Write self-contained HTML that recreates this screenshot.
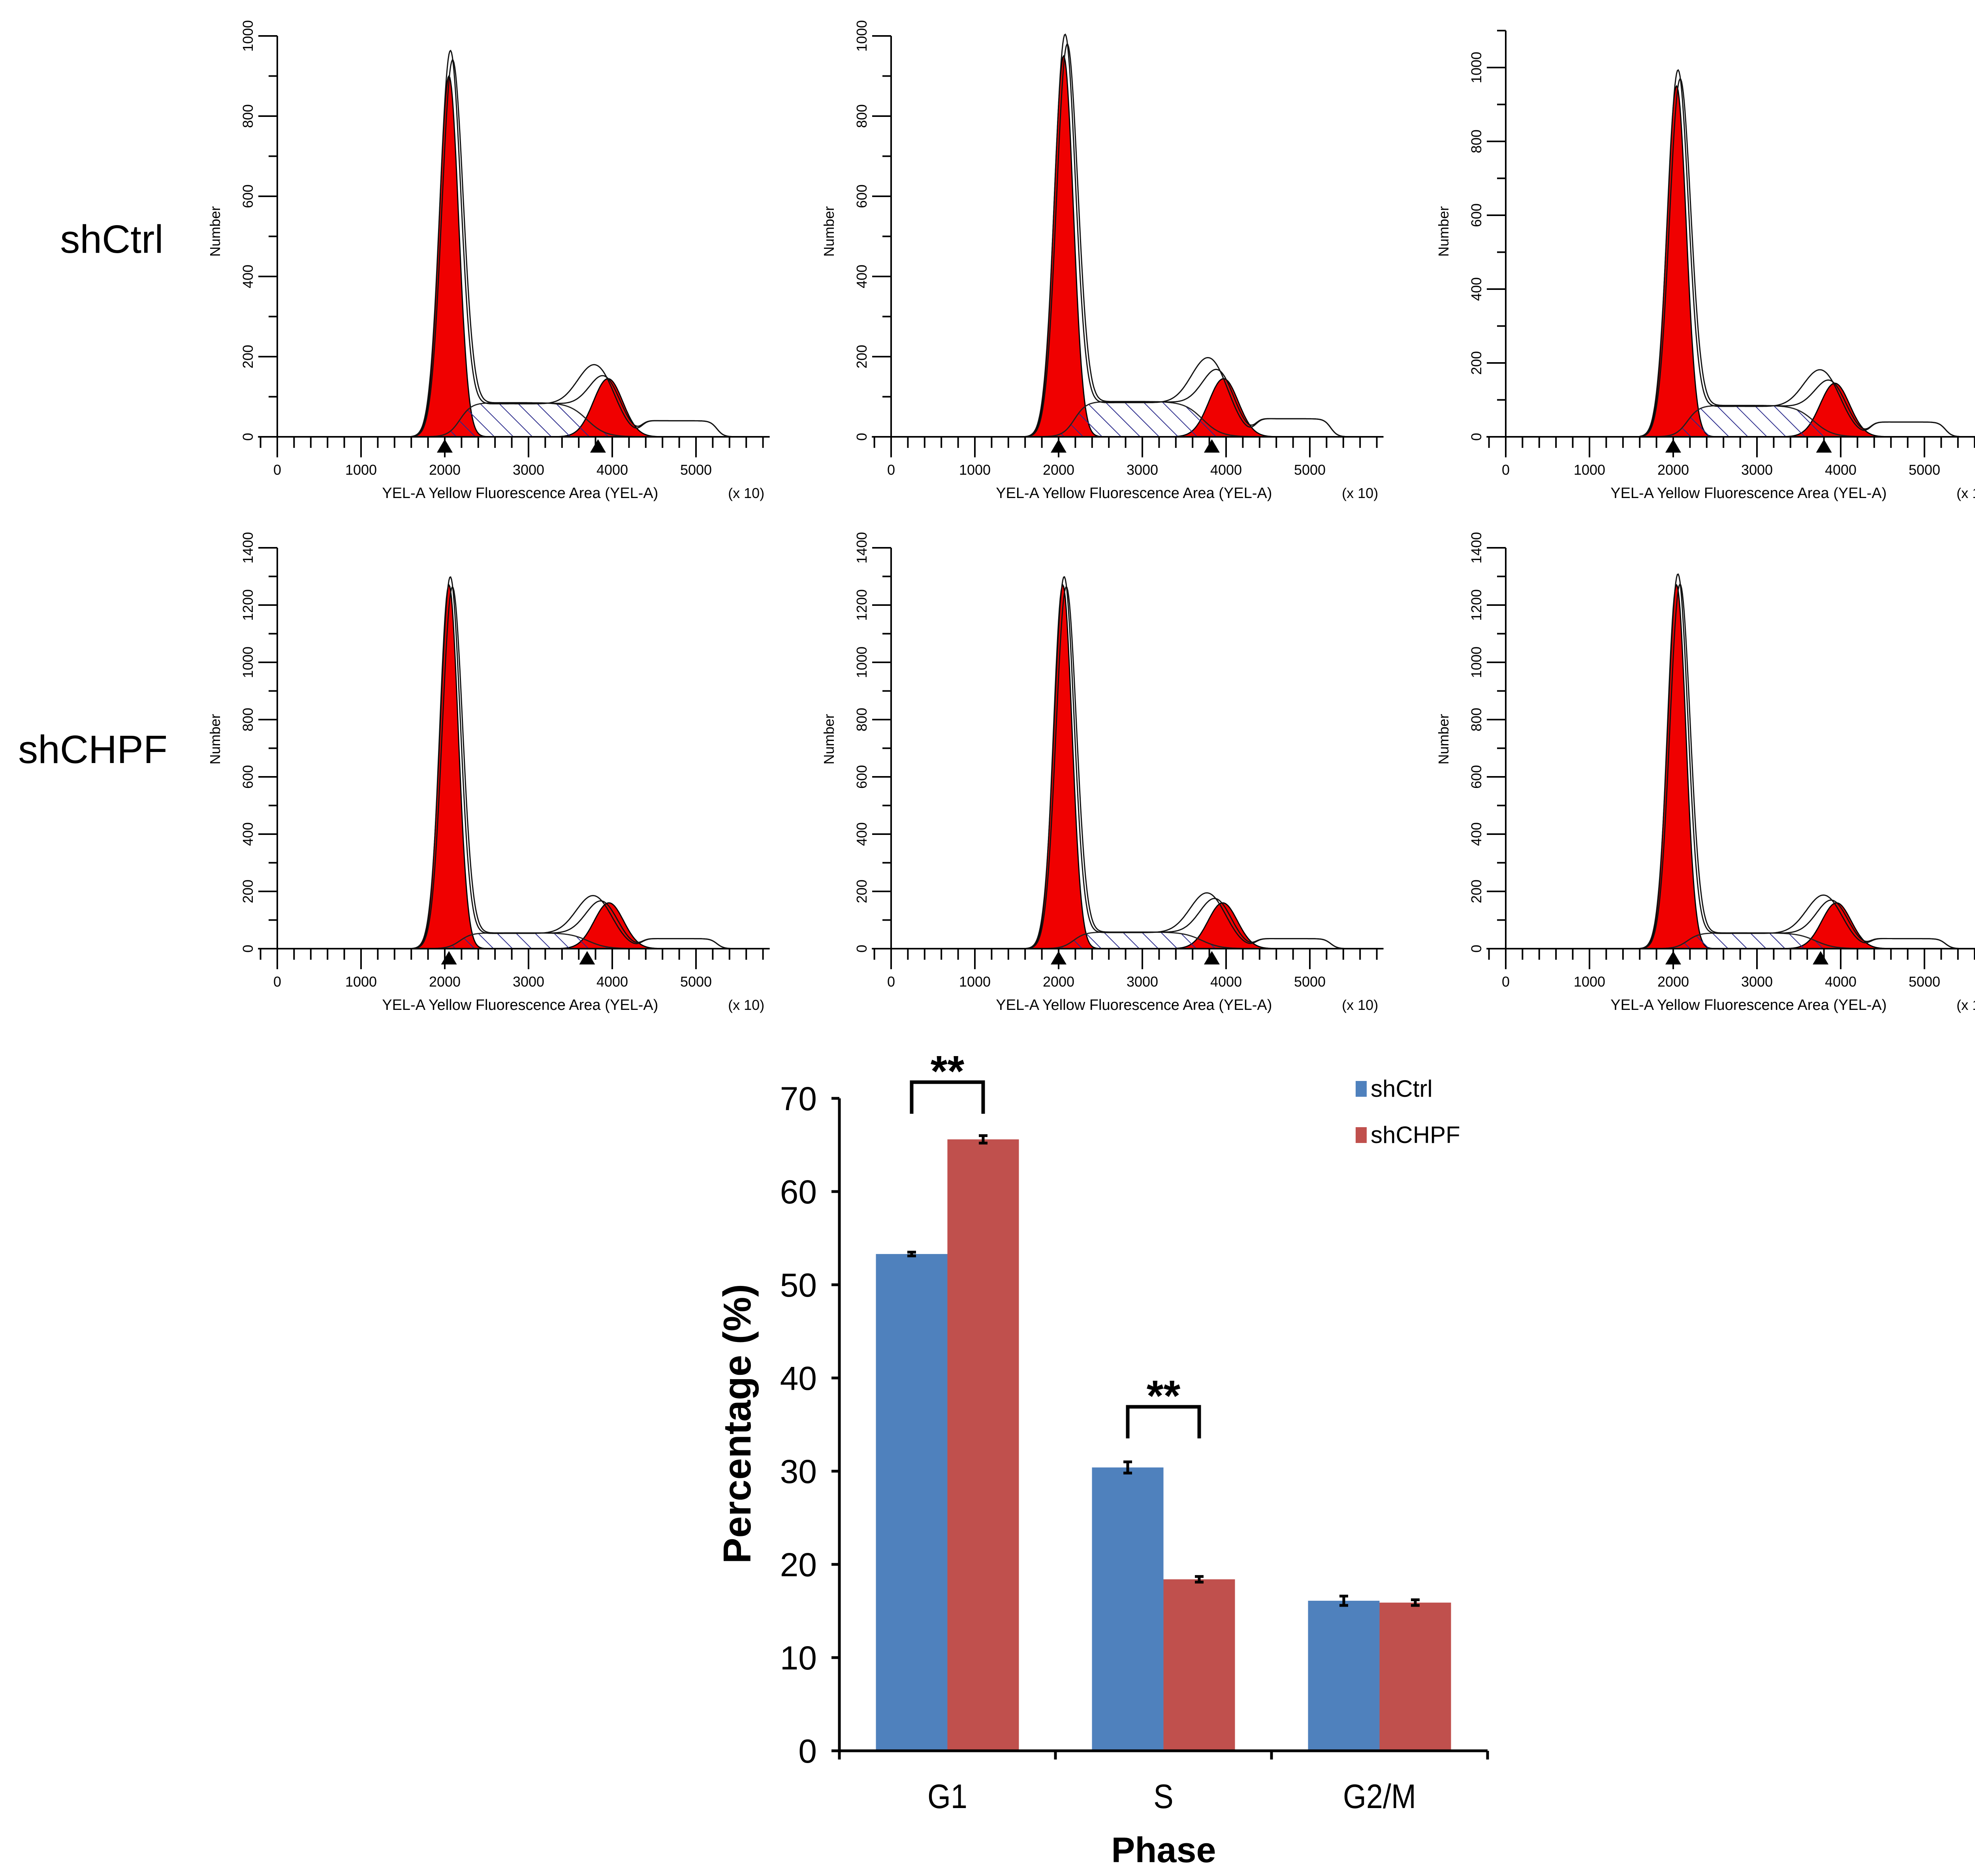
<!DOCTYPE html>
<html><head><meta charset="utf-8">
<style>
html,body{margin:0;padding:0;background:#fff;}
svg{display:block;font-family:"Liberation Sans",Arial,sans-serif;}
</style></head>
<body>
<svg id="fig" width="5100" height="4750" viewBox="0 0 5100 4750" xmlns="http://www.w3.org/2000/svg">
<defs>
<pattern id="hatch" patternUnits="userSpaceOnUse" width="34" height="34" patternTransform="rotate(-45)">
<line x1="0" y1="0" x2="0" y2="34" stroke="#2b2b8c" stroke-width="4"/>
</pattern>
</defs>
<rect x="0" y="0" width="5100" height="4750" fill="#fff"/>
<g id="hist"></g>
<g id="bars"></g>
</svg>
<script>
// ---------- Histogram data (one entry per panel: row1 c1..c3, row2 c1..c3) ----------
const panelYMax = [1000, 1000, 1100, 1400, 1400, 1400];
const panelYLabelStep = [200, 200, 200, 200, 200, 200];
const g1Mean = [2050, 2060, 2040, 2050, 2050, 2040];
const g1Peak = [900, 950, 950, 1270, 1270, 1270];
const g1OutlinePeak = [950, 990, 980, 1290, 1290, 1300];
const g1Sd = [115, 115, 115, 110, 110, 110];
const sLevel = [85, 88, 85, 55, 58, 55];
const g2Mean = [3950, 3970, 3930, 3960, 3960, 3950];
const g2Peak = [145, 145, 145, 160, 160, 160];
const g2OutlineMean = [3830, 3830, 3800, 3800, 3800, 3820];
const g2OutlinePeak = [200, 215, 200, 195, 205, 200];
const tailLevel = [40, 45, 40, 35, 35, 35];
const markerG1 = [2000, 2000, 2000, 2050, 2000, 2000];
const markerG2 = [3830, 3830, 3800, 3700, 3830, 3760];
const xTickLabels = ["0", "1000", "2000", "3000", "4000", "5000"];

// ---------- Bar chart data ----------
const phases = ["G1", "S", "G2/M"];
const shCtrl = [53.3, 30.4, 16.1];
const shCHPF = [65.6, 18.4, 15.9];
const errCtrl = [0.2, 0.6, 0.5];
const errCHPF = [0.4, 0.3, 0.3];
const yTicks = [0, 10, 20, 30, 40, 50, 60, 70];
const seriesNames = ["shCtrl", "shCHPF"];

const NS = "http://www.w3.org/2000/svg";
function mk(tag, attrs, parent) {
  const e = document.createElementNS(NS, tag);
  for (const k in attrs) e.setAttribute(k, attrs[k]);
  parent.appendChild(e);
  return e;
}
const hist = document.getElementById('hist');

const colX = [702, 2256, 3812];
const rowY0 = [1106, 2402];
const rowScale = [1.015, 0.725];
const xScale = 0.212;

function gauss(x, m, s) { return Math.exp(-0.5 * ((x - m) / s) * ((x - m) / s)); }
function sig(x, c, w) { return 1 / (1 + Math.exp(-(x - c) / w)); }

for (let p = 0; p < 6; p++) {
  const r = Math.floor(p / 3), c = p % 3;
  const ox = colX[c], oy = rowY0[r];
  let sc = rowScale[r];
  if (p === 2) sc = 0.935;
  const X = v => ox + v * xScale;
  const Y = n => oy - n * sc;
  const g = mk('g', {}, hist);
  
  

  const i = p;
  const S = x => sLevel[i] * sig(x, g1Mean[i] + 130, 70) * (1 - sig(x, g2Mean[i] - 250, 110));
  const G1 = x => g1Peak[i] * gauss(x, g1Mean[i], g1Sd[i]);
  const G2 = x => g2Peak[i] * gauss(x, g2Mean[i], 175);
  const T = x => tailLevel[i] * sig(x, 4350, 40) * (1 - sig(x, 5250, 40));
  const OUT1 = x => g1OutlinePeak[i] * gauss(x, g1Mean[i] + 15, g1Sd[i] * 1.08) + S(x) * 0.97 + (g2OutlinePeak[i] - sLevel[i] * 0.5) * gauss(x, g2OutlineMean[i], 210) + T(x);
  const OUT2 = x => g1OutlinePeak[i] * 0.97 * gauss(x, g1Mean[i] + 40, g1Sd[i] * 1.1) + S(x) + (g2OutlinePeak[i] - sLevel[i] * 0.7) * gauss(x, g2OutlineMean[i] + 80, 190) + T(x);

  function areaPath(f, a, b) {
    let d = 'M' + X(a) + ',' + Y(0);
    for (let x = a; x <= b; x += 10) d += ' L' + X(x).toFixed(1) + ',' + Y(f(x)).toFixed(1);
    d += ' L' + X(b) + ',' + Y(0) + ' Z';
    return d;
  }
  function linePath(f, a, b) {
    let d = '';
    for (let x = a; x <= b; x += 10) d += (x === a ? 'M' : ' L') + X(x).toFixed(1) + ',' + Y(f(x)).toFixed(1);
    return d;
  }
  let e;
  e = mk('path', { d: areaPath(G1, 1550, 2600), fill: '#f00000', stroke: '#000', 'stroke-width': 3 }, g);
   
  e = mk('path', { d: areaPath(G2, 3300, 4700), fill: '#f00000', stroke: '#000', 'stroke-width': 3 }, g);
   
  e = mk('path', { d: areaPath(S, 1800, 4600), fill: 'url(#hatch)', stroke: '#222', 'stroke-width': 3 }, g);
   
  e = mk('path', { d: linePath(OUT1, 1600, 5500), fill: 'none', stroke: '#111', 'stroke-width': 3 }, g);
   
  e = mk('path', { d: linePath(OUT2, 1600, 5500), fill: 'none', stroke: '#111', 'stroke-width': 3 }, g);
   

  const yTop = Y(panelYMax[p]);
  mk('line', { x1: ox, y1: yTop, x2: ox, y2: oy + 50, stroke: '#000', 'stroke-width': 4 }, g);
  mk('line', { x1: X(-230), y1: oy, x2: X(5880), y2: oy, stroke: '#000', 'stroke-width': 4 }, g);
  for (let n = 0; n <= panelYMax[p]; n += 100) {
    const major = n % panelYLabelStep[p] === 0;
    mk('line', { x1: ox - (major ? 48 : 22), y1: Y(n), x2: ox, y2: Y(n), stroke: '#000', 'stroke-width': 4 }, g);
    if (major && !(p === 2 && n === 1100)) {
      const t = mk('text', { x: ox - 62, y: Y(n), 'font-size': 36, 'text-anchor': 'middle', transform: 'rotate(-90 ' + (ox - 62) + ' ' + Y(n) + ')' }, g);
      t.textContent = String(n);
       
    }
  }
  for (let v = -200; v <= 5800; v += 200) {
    const major = v % 1000 === 0;
    mk('line', { x1: X(v), y1: oy, x2: X(v), y2: oy + (major ? 52 : 28), stroke: '#000', 'stroke-width': 4 }, g);
  }
  xTickLabels.forEach((lab, k) => {
    const t = mk('text', { x: X(k * 1000), y: oy + 96, 'font-size': 36, 'text-anchor': 'middle' }, g);
    t.textContent = lab;
     
  });
  let t = mk('text', { x: X(2900), y: oy + 155, 'font-size': 38, 'text-anchor': 'middle' }, g);
  t.textContent = 'YEL-A Yellow Fluorescence Area (YEL-A)';
   
  t = mk('text', { x: X(5600), y: oy + 155, 'font-size': 36, 'text-anchor': 'middle' }, g);
  t.textContent = '(x 10)';
   
  const ny = oy - 520 * (r === 0 ? 1 : 1.02);
  t = mk('text', { x: ox - 145, y: ny, 'font-size': 36, 'text-anchor': 'middle', transform: 'rotate(-90 ' + (ox - 145) + ' ' + ny + ')' }, g);
  t.textContent = 'Number';
   
  [markerG1[p], markerG2[p]].forEach(v => {
    const m = mk('path', { d: 'M' + (X(v) - 20) + ',' + (oy + 40) + ' L' + (X(v) + 20) + ',' + (oy + 40) + ' L' + X(v) + ',' + (oy + 6) + ' Z', fill: '#000' }, g);
     
  });
}
let rl = mk('text', { x: 283, y: 640, 'font-size': 100, 'text-anchor': 'middle' }, hist);
rl.textContent = 'shCtrl';
 
rl = mk('text', { x: 235, y: 1932, 'font-size': 100, 'text-anchor': 'middle' }, hist);
rl.textContent = 'shCHPF';
 

// ---------- Bar chart ----------
const bars = document.getElementById('bars');
const bx0 = 2125, by0 = 4433, pxPerUnit = 23.6;
const bxEnd = 3766;
const groupW = (bxEnd - bx0) / phases.length;
const barW = 181;
const BY = v => by0 - v * pxPerUnit;
const GC = k => bx0 + groupW * (k + 0.5);
const colors = ['#4f81bd', '#c0504d'];
const sets = [shCtrl, shCHPF];
const errs = [errCtrl, errCHPF];
phases.forEach((ph, k) => {
  sets.forEach((arr, s) => {
    const x = GC(k) - barW + s * barW;
    const b = mk('rect', { x: x, y: BY(arr[k]), width: barW, height: by0 - BY(arr[k]), fill: colors[s] }, bars);
    
    
    const cx = x + barW / 2, e = errs[s][k];
    const eb = mk('path', { d: 'M' + cx + ',' + BY(arr[k] + e) + ' V' + BY(arr[k] - e) + ' M' + (cx - 11) + ',' + BY(arr[k] + e) + ' h22 M' + (cx - 11) + ',' + BY(arr[k] - e) + ' h22', stroke: '#000', 'stroke-width': 7, fill: 'none' }, bars);
     
  });
  const t = mk('text', { x: GC(k), y: 4578, 'font-size': 86, 'text-anchor': 'middle', transform: 'scale(0.88 1)', 'transform-origin': GC(k) + ' 4578' }, bars);
  t.textContent = ph;
   
});
mk('line', { x1: bx0, y1: BY(70), x2: bx0, y2: by0 + 3, stroke: '#000', 'stroke-width': 7 }, bars);
mk('line', { x1: bx0 - 3, y1: by0, x2: bxEnd, y2: by0, stroke: '#000', 'stroke-width': 7 }, bars);
for (let k = 0; k <= phases.length; k++) {
  mk('line', { x1: bx0 + groupW * k, y1: by0, x2: bx0 + groupW * k, y2: by0 + 22, stroke: '#000', 'stroke-width': 7 }, bars);
}
yTicks.forEach(v => {
  mk('line', { x1: bx0 - 20, y1: BY(v), x2: bx0, y2: BY(v), stroke: '#000', 'stroke-width': 7 }, bars);
  const t = mk('text', { x: 2068, y: BY(v) + 30, 'font-size': 84, 'text-anchor': 'end' }, bars);
  t.textContent = String(v);
   
});
let tt = mk('text', { x: 1900, y: 3605, 'font-size': 98, 'font-weight': 'bold', 'text-anchor': 'middle', transform: 'rotate(-90 1900 3605)' }, bars);
tt.textContent = 'Percentage (%)';
 
tt = mk('text', { x: 2946, y: 4715, 'font-size': 90, 'font-weight': 'bold', 'text-anchor': 'middle' }, bars);
tt.textContent = 'Phase';
 
[0, 1].forEach(k => {
  const x1 = GC(k) - barW / 2, x2 = GC(k) + barW / 2;
  const top = k === 0 ? 2740 : 3562, leg = 80;
  const br = mk('path', { d: 'M' + x1 + ',' + (top + leg) + ' V' + top + ' H' + x2 + ' V' + (top + leg), stroke: '#000', 'stroke-width': 9, fill: 'none' }, bars);
   
  const st = mk('text', { x: GC(k), y: top + 10, 'font-size': 110, 'font-weight': 'bold', 'text-anchor': 'middle' }, bars);
  st.textContent = '**';
   
});
seriesNames.forEach((n, s) => {
  const ly = 2757 + s * 117;
  const sq = mk('rect', { x: 3432, y: ly - 20, width: 28, height: 40, fill: colors[s] }, bars);
   
  const lt = mk('text', { x: 3470, y: ly + 20, 'font-size': 60 }, bars);
  lt.textContent = n;
   
});
</script>
</body></html>
